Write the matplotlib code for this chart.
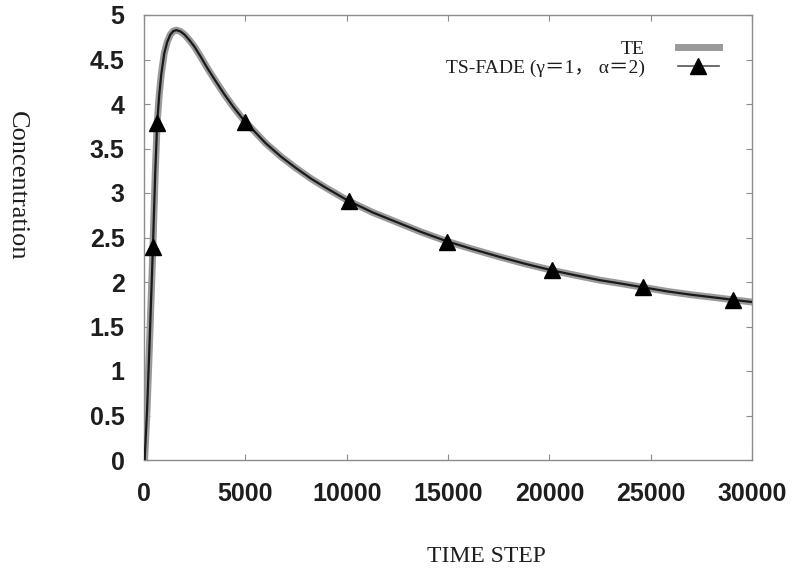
import matplotlib
matplotlib.use("Agg")
import matplotlib.pyplot as plt
from matplotlib.lines import Line2D

# TE curve
te_time = [30, 150, 280, 440, 550, 650, 750, 850, 1000, 1150, 1300, 1450, 1600,
           1800, 2000, 2250, 2500, 2800, 3135, 3500, 3960, 4400, 4780, 5000,
           5500, 6000, 6750, 7500, 8250, 9000, 10100, 11300, 12500, 13700,
           14975, 16200, 17500, 18800, 20150, 21300, 22500, 23600, 24630,
           25800, 27000, 28000, 29060, 30000]
te_conc = [0.0, 0.55, 1.35, 2.39, 3.20, 3.79, 4.10, 4.33, 4.57, 4.70, 4.78, 4.82, 4.83,
           4.815, 4.78, 4.715, 4.64, 4.53, 4.40, 4.27, 4.11, 3.97, 3.86, 3.80,
           3.68, 3.56, 3.41, 3.28, 3.16, 3.055, 2.91, 2.78, 2.67, 2.56,
           2.455, 2.37, 2.285, 2.205, 2.13, 2.075, 2.02, 1.98, 1.94,
           1.895, 1.857, 1.83, 1.80, 1.775]

# TS-FADE marker points
ts_time = [440, 650, 5000, 10100, 14975, 20150, 24630, 29060]
ts_conc = [2.39, 3.79, 3.80, 2.91, 2.455, 2.13, 1.94, 1.80]

xticks = [0, 5000, 10000, 15000, 20000, 25000, 30000]
yticks = [0, 0.5, 1, 1.5, 2, 2.5, 3, 3.5, 4, 4.5, 5]
yticklabels = ["0", "0.5", "1", "1.5", "2", "2.5", "3", "3.5", "4", "4.5", "5"]

fig = plt.figure(figsize=(8.04, 5.73), dpi=100)
ax = fig.add_axes([144/804, 1-460/573, (752-144)/804, (460-15)/573])

ax.plot(te_time, te_conc, color="#9a9a9a", lw=5, solid_capstyle="round",
        solid_joinstyle="round", zorder=2)
ax.plot(te_time, te_conc, color="#1a1a1a", lw=1.6, solid_joinstyle="round", zorder=3)
ax.plot(ts_time, ts_conc, linestyle="none", marker="^", color="black",
        markersize=11, zorder=4)

ax.set_xlim(0, 30000)
ax.set_ylim(0, 5)
ax.set_xticks(xticks)
ax.set_yticks(yticks)
ax.set_yticklabels(yticklabels)
for sp in ax.spines.values():
    sp.set_color("#8c8c8c")
    sp.set_linewidth(1.0)
ax.tick_params(direction="in", length=4, width=0.8, color="#8c8c8c",
               top=True, right=True)
ax.tick_params(axis="x", pad=16)
ax.tick_params(axis="y", pad=14)
for lab in ax.get_xticklabels() + ax.get_yticklabels():
    lab.set_fontfamily("Liberation Sans")
    lab.set_fontweight("bold")
    lab.set_fontsize(18)
    lab.set_color("#1e1e1e")

fig.text(486/804, 1-557/573, "TIME STEP", ha="center", va="center",
         fontsize=17, family="Liberation Serif", color="#1e1e1e")
fig.text(17/804, 1-186/573, "Concentration", ha="center", va="center",
         rotation=-90, fontsize=19, family="Liberation Serif", color="#1e1e1e")

h_te = Line2D([], [], color="#9a9a9a", lw=5)
h_ts = Line2D([], [], color="#555555", lw=1.2, marker="^", markersize=11,
              markerfacecolor="black", markeredgecolor="black")
leg = ax.legend([h_te, h_ts], ["TE", "TS-FADE (γ＝1， α＝2)"],
                loc="upper right", bbox_to_anchor=(0.974, 0.982), frameon=False,
                markerfirst=False, handlelength=2.1, handletextpad=1.7,
                labelspacing=0.05,
                prop={"family": ["Liberation Serif", "Noto Sans CJK SC"], "size": 14})
for t in leg.get_texts():
    t.set_color("#1e1e1e")

fig.savefig("out.png", dpi=100)
